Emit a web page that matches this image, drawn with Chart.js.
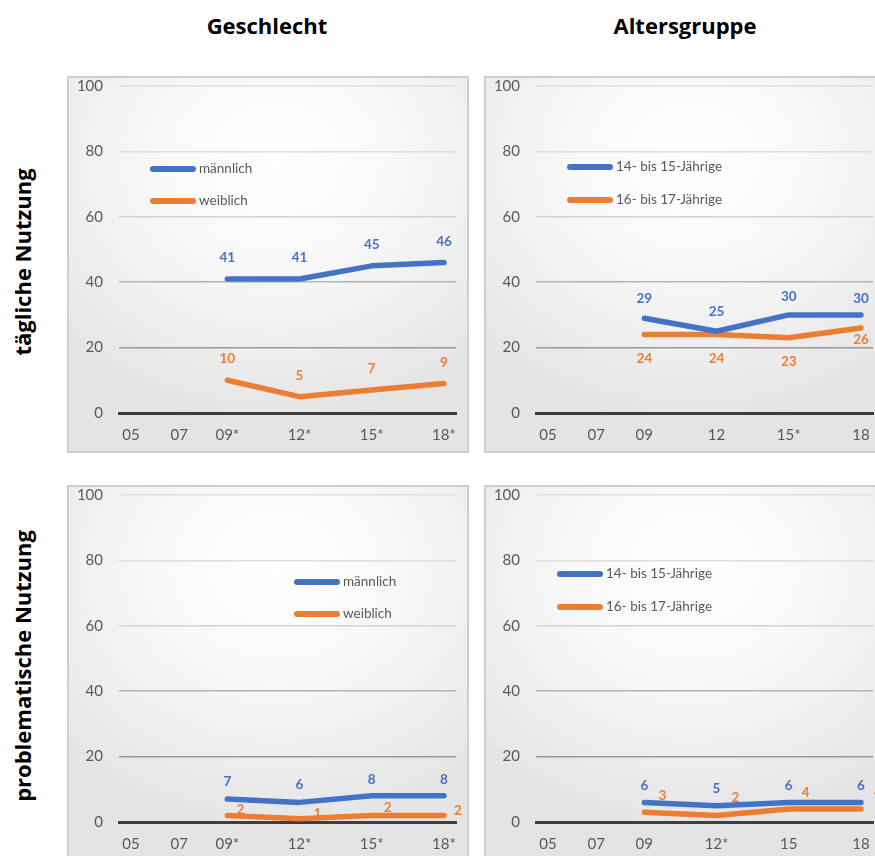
<!DOCTYPE html>
<html>
<head>
<meta charset="utf-8">
<script src="https://cdn.jsdelivr.net/npm/chart.js@4.4.0/dist/chart.umd.min.js"></script>
<style>
  body { margin: 0; background: #fff; width: 875px; height: 856px; overflow: hidden; position: relative; font-family: Lato, "Open Sans", sans-serif; }
  .title { position: absolute; font-family: "Open Sans", sans-serif; font-weight: bold; font-size: 22px; color: #000; white-space: nowrap; transform: translate(-50%, -50%); }
  .rowtitle { transform: translate(-50%, -50%) rotate(-90deg); }
  .panel {
    position: absolute; width: 402px; height: 377px;
    background: radial-gradient(ellipse 75% 70% at 52% 22%, #ffffff 0%, #f8f8f8 40%, #ededed 75%, #e4e4e4 100%);
    box-shadow: inset 0 0 0 2px #cfcfcf;
  }
  .panel canvas { position: absolute; left: 0; top: 0; }
</style>
</head>
<body>
<div class="title" style="left:267px; top:25px;">Geschlecht</div>
<div class="title" style="left:685px; top:25px;">Altersgruppe</div>
<div class="title rowtitle" style="left:22px; top:262px;">tägliche Nutzung</div>
<div class="title rowtitle" style="left:22px; top:666px;">problematische Nutzung</div>

<div class="panel" style="left:67px; top:76px;"><canvas id="c1"></canvas></div>
<div class="panel" style="left:484px; top:76px;"><canvas id="c2"></canvas></div>
<div class="panel" style="left:67px; top:485px;"><canvas id="c3"></canvas></div>
<div class="panel" style="left:484px; top:485px;"><canvas id="c4"></canvas></div>

<script>
// survey years (x positions) and their tick labels per panel
const tickYears = [5, 7, 9, 12, 15, 18];
const dataYears = [9, 12, 15, 18];
const labelsGenderDaily = ['05', '07', '09*', '12*', '15*', '18*'];
const labelsAgeDaily = ['05', '07', '09', '12', '15*', '18'];
const labelsGenderProb = ['05', '07', '09*', '12*', '15*', '18*'];
const labelsAgeProb = ['05', '07', '09', '12*', '15', '18'];

// values in percent
const maleDaily = [41, 41, 45, 46];
const femaleDaily = [10, 5, 7, 9];
const age1415Daily = [29, 25, 30, 30];
const age1617Daily = [24, 24, 23, 26];
const maleProb = [7, 6, 8, 8];
const femaleProb = [2, 1, 2, 2];
const age1415Prob = [6, 5, 6, 6];
const age1617Prob = [3, 2, 4, 4];

const seriesNames = {
    male: 'männlich',
    female: 'weiblich',
    young: '14- bis 15-Jährige',
    old: '16- bis 17-Jährige'
};

const BLUE = '#4472C4';
const ORANGE = '#ED7D31';
const TEXT = '#595959';
const FONT = 'Lato, "Open Sans", sans-serif';

function points(values) {
    return values.map((v, i) => ({ x: dataYears[i], y: v }));
}

// value labels next to each point
const valueLabels = {
    id: 'valueLabels',
    beforeDatasetsDraw(chart) {
        const ctx = chart.ctx;
        ctx.save();
        ctx.font = 'bold 13.5px ' + FONT;
        ctx.textAlign = 'center';
        ctx.textBaseline = 'middle';
        chart.data.datasets.forEach((ds, di) => {
            const meta = chart.getDatasetMeta(di);
            ctx.fillStyle = ds.borderColor;
            meta.data.forEach((pt, i) => {
                const off = ds.labelOffsets[i];
                ctx.fillText(String(ds.data[i].y), pt.x + off[0], pt.y + off[1]);
            });
        });
        ctx.restore();
    }
};

// legend drawn inside the plot
const innerLegend = {
    id: 'innerLegend',
    afterDraw(chart, args, opts) {
        const ctx = chart.ctx;
        ctx.save();
        ctx.font = '13.5px ' + FONT;
        ctx.textBaseline = 'middle';
        ctx.lineCap = 'round';
        chart.data.datasets.forEach((ds, i) => {
            const y = opts.y + i * opts.gap;
            ctx.strokeStyle = ds.borderColor;
            ctx.lineWidth = 6;
            ctx.beginPath();
            ctx.moveTo(opts.x, y);
            ctx.lineTo(opts.x + 40, y);
            ctx.stroke();
            ctx.fillStyle = TEXT;
            ctx.fillText(ds.label, opts.x + 46, y);
        });
        ctx.restore();
    }
};

function gridColor(c) {
    const v = c.tick.value;
    if (v === 0) return 'rgba(0,0,0,0)';
    if (v === 20) return '#9a9a9a';
    if (v === 40) return '#b4b4b4';
    if (v === 60) return '#d2d2d2';
    return '#dedede';
}

function makeChart(id, tickLabels, series, legendPos) {
    return new Chart(document.getElementById(id), {
        type: 'line',
        data: {
            datasets: series.map(s => ({
                label: s.name,
                data: points(s.values),
                borderColor: s.color,
                backgroundColor: s.color,
                borderWidth: 5.5,
                pointRadius: 0,
                tension: 0,
                fill: false,
                borderCapStyle: 'round',
                borderJoinStyle: 'round',
                labelOffsets: s.offsets
            }))
        },
        options: {
            responsive: true,
            maintainAspectRatio: false,
            animation: false,
            layout: { padding: { top: 10, right: 13, left: 0, bottom: 0 } },
            plugins: {
                legend: { display: false },
                tooltip: { enabled: false },
                innerLegend: legendPos
            },
            scales: {
                x: {
                    type: 'linear',
                    min: 4.5,
                    max: 18.5,
                    afterBuildTicks: s => { s.ticks = tickYears.map(v => ({ value: v })); },
                    afterFit: s => { s.height = 40; s.paddingLeft = 0; s.paddingRight = 0; },
                    ticks: {
                        color: TEXT,
                        font: { family: FONT, size: 15 },
                        padding: 13,
                        maxRotation: 0,
                        autoSkip: false,
                        callback: v => tickLabels[tickYears.indexOf(v)]
                    },
                    grid: { display: false, drawTicks: false },
                    border: { color: '#3f3f3f', width: 3 }
                },
                y: {
                    min: 0,
                    max: 100,
                    afterFit: s => { s.width = 52; s.paddingTop = 0; s.paddingBottom = 0; },
                    ticks: {
                        stepSize: 20,
                        color: TEXT,
                        font: { family: FONT, size: 15 },
                        padding: 16
                    },
                    grid: { color: gridColor, lineWidth: 1.5, drawTicks: false },
                    border: { display: false }
                }
            }
        },
        plugins: [valueLabels, innerLegend]
    });
}

makeChart('c1', labelsGenderDaily, [
    { name: seriesNames.male, values: maleDaily, color: BLUE,
      offsets: [[0, -21], [0, -21], [0, -21], [0, -21]] },
    { name: seriesNames.female, values: femaleDaily, color: ORANGE,
      offsets: [[0, -22], [0, -21], [0, -21], [0, -21]] }
], { x: 86, y: 93, gap: 32 });

makeChart('c2', labelsAgeDaily, [
    { name: seriesNames.young, values: age1415Daily, color: BLUE,
      offsets: [[0, -20], [0, -20], [0, -18], [0, -16]] },
    { name: seriesNames.old, values: age1617Daily, color: ORANGE,
      offsets: [[0, 24], [0, 24], [0, 24], [0, 12]] }
], { x: 86, y: 91, gap: 33 });

makeChart('c3', labelsGenderProb, [
    { name: seriesNames.male, values: maleProb, color: BLUE,
      offsets: [[0, -17], [0, -18], [0, -16], [0, -16]] },
    { name: seriesNames.female, values: femaleProb, color: ORANGE,
      offsets: [[13, -6], [18, -5], [16, -8], [14, -5]] }
], { x: 230, y: 97, gap: 32 });

makeChart('c4', labelsAgeProb, [
    { name: seriesNames.young, values: age1415Prob, color: BLUE,
      offsets: [[0, -17], [0, -17], [0, -17], [0, -17]] },
    { name: seriesNames.old, values: age1617Prob, color: ORANGE,
      offsets: [[18, -17], [19, -18], [17, -16], [17, -16]] }
], { x: 76, y: 89, gap: 33 });
</script>
</body>
</html>
